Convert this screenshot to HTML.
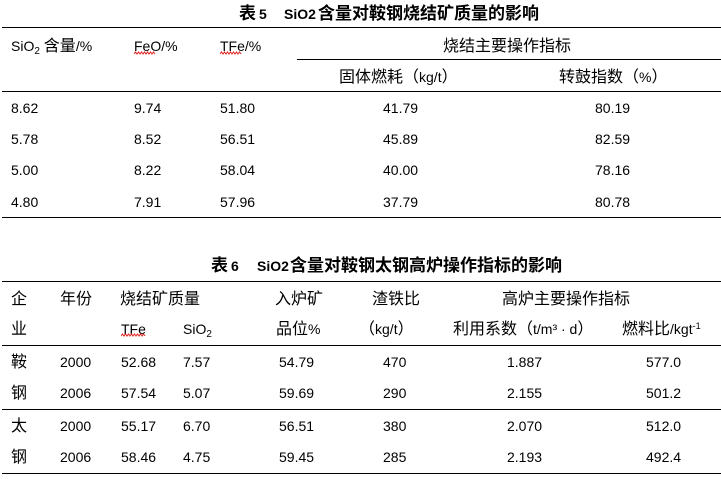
<!DOCTYPE html>
<html><head><meta charset="utf-8">
<style>
html,body{margin:0;padding:0;background:#fff;}
body{width:721px;height:479px;position:relative;overflow:hidden;font-family:"Liberation Sans","Noto Sans CJK SC",sans-serif;font-size:14px;color:#000;}
.t{position:absolute;line-height:20px;white-space:nowrap;}
.c{font-size:16px;line-height:0;}
.cb{font-size:17px;line-height:0;font-weight:bold;}
.b{font-weight:bold;}
.sub{font-size:10px;line-height:0;position:relative;top:3px;}
.sup{font-size:9px;line-height:0;position:relative;top:-5px;}
.ln{position:absolute;height:1px;background:#000;}
svg{position:absolute;}
</style></head><body>

<!-- Table 5 -->
<div class="t b" style="left:239px;top:4px"><span class="cb">表</span></div>
<div class="t b" style="left:259px;top:4px">5</div>
<div class="t b" style="left:284px;top:4px">SiO2</div>
<div class="t" style="left:318px;top:4px"><span class="cb">含量对鞍钢烧结矿质量的影响</span></div>

<div class="ln" style="left:2px;width:719px;top:27px"></div>
<div class="ln" style="left:297px;width:424px;top:59px"></div>
<div class="ln" style="left:2px;width:719px;top:91px"></div>
<div class="ln" style="left:2px;width:719px;top:217px"></div>

<div class="t" style="left:11px;top:36px">SiO<span class="sub">2</span> <span class="c">含量</span>/%</div>
<div class="t" style="left:134px;top:36px">FeO/%</div>
<div class="t" style="left:220px;top:36px">TFe/%</div>
<div class="t" style="left:443px;top:36px"><span class="c">烧结主要操作指标</span></div>
<svg style="left:134px;top:51px" width="23" height="4"><path d="M0,3 l1.5,-2 l1.5,2 l1.5,-2 l1.5,2 l1.5,-2 l1.5,2 l1.5,-2 l1.5,2 l1.5,-2 l1.5,2 l1.5,-2 l1.5,2 l1.5,-2 l1.5,2" stroke="#e02020" fill="none" stroke-width="1"/></svg>
<svg style="left:220px;top:51px" width="23" height="4"><path d="M0,3 l1.5,-2 l1.5,2 l1.5,-2 l1.5,2 l1.5,-2 l1.5,2 l1.5,-2 l1.5,2 l1.5,-2 l1.5,2 l1.5,-2 l1.5,2 l1.5,-2 l1.5,2" stroke="#e02020" fill="none" stroke-width="1"/></svg>

<div class="t" style="left:339px;top:67px"><span class="c">固体燃耗（</span>kg/t<span class="c">）</span></div>
<div class="t" style="left:559px;top:67px"><span class="c">转鼓指数（</span>%<span class="c">）</span></div>

<div class="t" style="left:11px;top:98px">8.62</div>
<div class="t" style="left:134px;top:98px">9.74</div>
<div class="t" style="left:220px;top:98px">51.80</div>
<div class="t" style="left:383px;top:98px">41.79</div>
<div class="t" style="left:595px;top:98px">80.19</div>

<div class="t" style="left:11px;top:129px">5.78</div>
<div class="t" style="left:134px;top:129px">8.52</div>
<div class="t" style="left:220px;top:129px">56.51</div>
<div class="t" style="left:383px;top:129px">45.89</div>
<div class="t" style="left:595px;top:129px">82.59</div>

<div class="t" style="left:11px;top:160px">5.00</div>
<div class="t" style="left:134px;top:160px">8.22</div>
<div class="t" style="left:220px;top:160px">58.04</div>
<div class="t" style="left:383px;top:160px">40.00</div>
<div class="t" style="left:595px;top:160px">78.16</div>

<div class="t" style="left:11px;top:192px">4.80</div>
<div class="t" style="left:134px;top:192px">7.91</div>
<div class="t" style="left:220px;top:192px">57.96</div>
<div class="t" style="left:383px;top:192px">37.79</div>
<div class="t" style="left:595px;top:192px">80.78</div>

<!-- Table 6 -->
<div class="t b" style="left:211px;top:256px"><span class="cb">表</span></div>
<div class="t b" style="left:231px;top:256px">6</div>
<div class="t b" style="left:257px;top:256px">SiO2</div>
<div class="t" style="left:290px;top:256px"><span class="cb">含量对鞍钢太钢高炉操作指标的影响</span></div>

<div class="ln" style="left:2px;width:719px;top:281px"></div>
<div class="ln" style="left:2px;width:719px;top:345px"></div>
<div class="ln" style="left:2px;width:719px;top:409px"></div>
<div class="ln" style="left:2px;width:719px;top:473px"></div>

<div class="t" style="left:11px;top:289px"><span class="c">企</span></div>
<div class="t" style="left:60px;top:289px"><span class="c">年份</span></div>
<div class="t" style="left:120px;top:289px"><span class="c">烧结矿质量</span></div>
<div class="t" style="left:275px;top:289px"><span class="c">入炉矿</span></div>
<div class="t" style="left:372px;top:289px"><span class="c">渣铁比</span></div>
<div class="t" style="left:502px;top:289px"><span class="c">高炉主要操作指标</span></div>

<div class="t" style="left:11px;top:319px"><span class="c">业</span></div>
<div class="t" style="left:121px;top:319px">TFe</div>
<svg style="left:121px;top:333px" width="25" height="4"><path d="M0,3 l1.5,-2 l1.5,2 l1.5,-2 l1.5,2 l1.5,-2 l1.5,2 l1.5,-2 l1.5,2 l1.5,-2 l1.5,2 l1.5,-2 l1.5,2 l1.5,-2 l1.5,2 l1.5,-2 l1.5,2" stroke="#e02020" fill="none" stroke-width="1"/></svg>
<div class="t" style="left:183px;top:319px">SiO<span class="sub">2</span></div>
<div class="t" style="left:276px;top:319px"><span class="c">品位</span>%</div>
<div class="t" style="left:359px;top:319px"><span class="c">（</span>kg/t<span class="c">）</span></div>
<div class="t" style="left:453px;top:319px"><span class="c">利用系数（</span>t/m³ · d<span class="c">）</span></div>
<div class="t" style="left:622px;top:319px"><span class="c">燃料比</span>/kgt<span class="sup">-1</span></div>

<div class="t" style="left:11px;top:352px"><span class="c">鞍</span></div>
<div class="t" style="left:60px;top:352px">2000</div>
<div class="t" style="left:121px;top:352px">52.68</div>
<div class="t" style="left:183px;top:352px">7.57</div>
<div class="t" style="left:279px;top:352px">54.79</div>
<div class="t" style="left:383px;top:352px">470</div>
<div class="t" style="left:507px;top:352px">1.887</div>
<div class="t" style="left:646px;top:352px">577.0</div>

<div class="t" style="left:11px;top:383px"><span class="c">钢</span></div>
<div class="t" style="left:60px;top:383px">2006</div>
<div class="t" style="left:121px;top:383px">57.54</div>
<div class="t" style="left:183px;top:383px">5.07</div>
<div class="t" style="left:279px;top:383px">59.69</div>
<div class="t" style="left:383px;top:383px">290</div>
<div class="t" style="left:507px;top:383px">2.155</div>
<div class="t" style="left:646px;top:383px">501.2</div>

<div class="t" style="left:11px;top:416px"><span class="c">太</span></div>
<div class="t" style="left:60px;top:416px">2000</div>
<div class="t" style="left:121px;top:416px">55.17</div>
<div class="t" style="left:183px;top:416px">6.70</div>
<div class="t" style="left:279px;top:416px">56.51</div>
<div class="t" style="left:383px;top:416px">380</div>
<div class="t" style="left:507px;top:416px">2.070</div>
<div class="t" style="left:646px;top:416px">512.0</div>

<div class="t" style="left:11px;top:447px"><span class="c">钢</span></div>
<div class="t" style="left:60px;top:447px">2006</div>
<div class="t" style="left:121px;top:447px">58.46</div>
<div class="t" style="left:183px;top:447px">4.75</div>
<div class="t" style="left:279px;top:447px">59.45</div>
<div class="t" style="left:383px;top:447px">285</div>
<div class="t" style="left:507px;top:447px">2.193</div>
<div class="t" style="left:646px;top:447px">492.4</div>

</body></html>
